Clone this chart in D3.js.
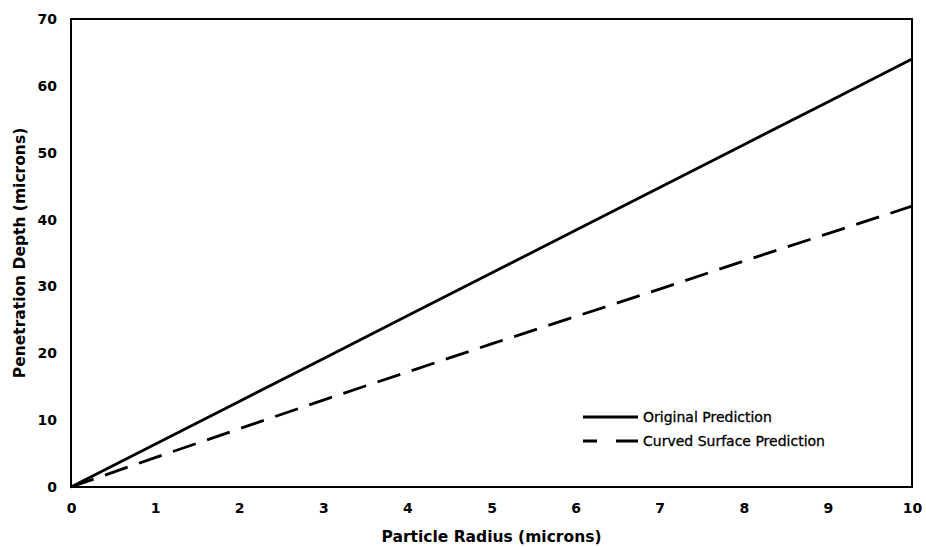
<!DOCTYPE html>
<html>
<head>
<meta charset="utf-8">
<script src="https://cdn.jsdelivr.net/npm/d3@7"></script>
<style>
  body { margin: 0; background: #fff; }
  text { font-family: "DejaVu Sans", Verdana, sans-serif; fill: #000; }
</style>
</head>
<body>
<svg id="chart" width="926" height="547"></svg>
<script>
// particle radius (microns)
const radius = [0, 1, 2, 3, 4, 5, 6, 7, 8, 9, 10]
// penetration depth (microns)
const originalDepth = [0, 6.4, 12.8, 19.2, 25.6, 32.0, 38.4, 44.8, 51.2, 57.6, 64.0]
const curvedDepth = [0, 4.4, 8.7, 13.0, 17.2, 21.4, 25.5, 29.6, 33.8, 37.9, 42.0]
const xTicks = [0, 1, 2, 3, 4, 5, 6, 7, 8, 9, 10]
const yTicks = [0, 10, 20, 30, 40, 50, 60, 70]
const seriesNames = ["Original Prediction", "Curved Surface Prediction"]

const svg = d3.select("#chart")
const margin = {left: 71, right: 14, top: 19, bottom: 60}
const width = 926 - margin.left - margin.right
const height = 547 - margin.top - margin.bottom

const x = d3.scaleLinear().domain([0, 10]).range([0, width])
const y = d3.scaleLinear().domain([0, 70]).range([height, 0])

const g = svg.append("g").attr("transform", `translate(${margin.left},${margin.top})`)

// axes with no tick marks, labels only
const xAxis = g.append("g")
  .attr("transform", `translate(0,${height})`)
  .call(d3.axisBottom(x).tickValues(xTicks).tickSize(0).tickPadding(16).tickFormat(d3.format("d")))
xAxis.select(".domain").remove()
xAxis.selectAll("text").attr("font-size", "14px").attr("font-weight", "bold")

const yAxis = g.append("g")
  .call(d3.axisLeft(y).tickValues(yTicks).tickSize(0).tickPadding(14).tickFormat(d3.format("d")))
yAxis.select(".domain").remove()
yAxis.selectAll("text").attr("font-size", "14px").attr("font-weight", "bold")

// plot frame
g.append("rect")
  .attr("x", 0).attr("y", 0)
  .attr("width", width).attr("height", height)
  .attr("fill", "none").attr("stroke", "#000").attr("stroke-width", 2)

const line = d3.line()
  .x((d, i) => x(radius[i]))
  .y(d => y(d))

g.append("path")
  .datum(originalDepth)
  .attr("d", line)
  .attr("fill", "none").attr("stroke", "#000").attr("stroke-width", 2.8)

g.append("path")
  .datum(curvedDepth)
  .attr("d", line)
  .attr("fill", "none").attr("stroke", "#000").attr("stroke-width", 2.8)
  .attr("stroke-dasharray", "24,12")

// legend
const legend = svg.append("g").attr("transform", "translate(583,417)")
seriesNames.forEach((name, i) => {
  const row = legend.append("g").attr("transform", `translate(0,${i * 24})`)
  row.append("line")
    .attr("x1", 0).attr("x2", 55)
    .attr("stroke", "#000").attr("stroke-width", 2.8)
    .attr("stroke-dasharray", i == 1 ? "14,19,22" : null)
  row.append("text")
    .attr("x", 60).attr("y", 5)
    .attr("font-size", "14px")
    .attr("stroke", "#000").attr("stroke-width", 0.3)
    .text(name)
})

// axis titles
svg.append("text")
  .attr("x", margin.left + width / 2).attr("y", 542)
  .attr("text-anchor", "middle")
  .attr("font-size", "15.5px").attr("font-weight", "bold")
  .text("Particle Radius (microns)")

svg.append("text")
  .attr("transform", `translate(25,${margin.top + height / 2}) rotate(-90)`)
  .attr("text-anchor", "middle")
  .attr("font-size", "15.5px").attr("font-weight", "bold")
  .text("Penetration Depth (microns)")
</script>
</body>
</html>
